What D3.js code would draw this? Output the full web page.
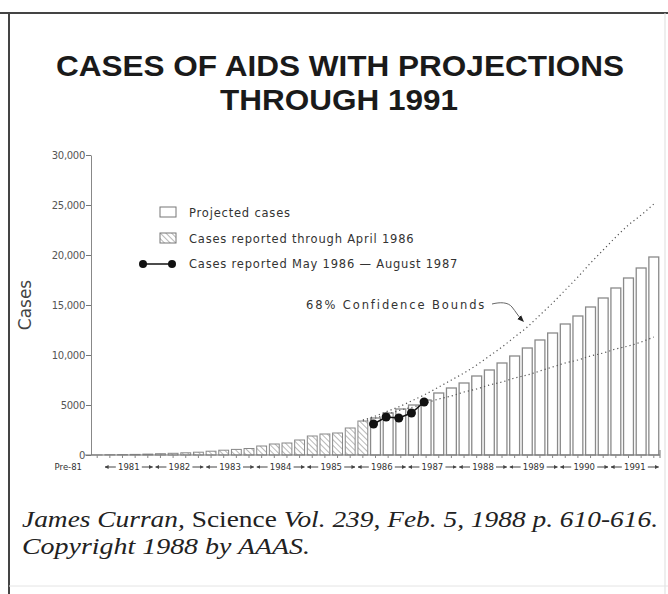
<!DOCTYPE html>
<html>
<head>
<meta charset="utf-8">
<script src="https://cdn.jsdelivr.net/npm/d3@7"></script>
<style>
  body { margin: 0; background: #fff; }
  svg { display: block; }
</style>
</head>
<body>
<div id="chart"></div>
<script>
// categories: one bar per quarter, after a single pre-1981 bar
const years = [1981, 1982, 1983, 1984, 1985, 1986, 1987, 1988, 1989, 1990, 1991];
const quarterNames = ['Q1', 'Q2', 'Q3', 'Q4'];
const categories = ['Pre-81'];
years.forEach(y => quarterNames.forEach(q => categories.push(y + ' ' + q)));

// cases reported through April 1986 (hatched bars), Pre-81 .. 1986 Q1
const reportedCases = [
  10,
  30, 40, 60, 90,
  130, 170, 220, 280,
  380, 480, 560, 650,
  900, 1100, 1200, 1500,
  1900, 2100, 2200, 2700,
  3400
];

// projected cases (open bars), 1986 Q2 .. 1991 Q4
const projectedCases = [
  3700, 4200, 4600,
  5000, 5500, 6200, 6700,
  7200, 7900, 8500, 9200,
  9900, 10700, 11500, 12200,
  13100, 13900, 14800, 15700,
  16700, 17700, 18700, 19800
];

// cases reported May 1986 - August 1987 (dots)
const laterQuarters = ['1986 Q2', '1986 Q3', '1986 Q4', '1987 Q1', '1987 Q2'];
const laterCases = [3100, 3800, 3700, 4200, 5300];

// 68% confidence bounds, 1986 Q1 .. 1991 Q4
const boundQuarters = categories.slice(21);
const upperBound = [
  3500, 3900, 4400, 4900, 5500, 6100, 6800, 7500,
  8200, 9000, 9900, 10800, 11800, 12800, 14000, 15200,
  16500, 17800, 19200, 20500, 21800, 23000, 24000, 25100
];
const lowerBound = [
  3400, 3700, 4100, 4500, 4800, 5200, 5600, 5900,
  6300, 6600, 7000, 7300, 7700, 8000, 8400, 8800,
  9200, 9500, 9900, 10200, 10600, 10900, 11300, 11800
];

const yTicks = [0, 5000, 10000, 15000, 20000, 25000, 30000];

const width = 668, height = 594;
const plot = { left: 91, right: 660, top: 155, bottom: 455 };
const gray = '#555';
const sansFont = '"DejaVu Sans", sans-serif';
const serifFont = '"Liberation Serif", "Times New Roman", serif';

const svg = d3.select('#chart').append('svg')
  .attr('width', width)
  .attr('height', height);

// hatch pattern
const defs = svg.append('defs');
const hatch = defs.append('pattern')
  .attr('id', 'hatch')
  .attr('patternUnits', 'userSpaceOnUse')
  .attr('width', 4).attr('height', 4)
  .attr('patternTransform', 'rotate(-45)');
hatch.append('rect').attr('width', 4).attr('height', 4).attr('fill', '#fff');
hatch.append('line')
  .attr('x1', 0).attr('y1', 0).attr('x2', 0).attr('y2', 4)
  .attr('stroke', '#888').attr('stroke-width', 1.2);

defs.append('marker')
  .attr('id', 'arrowHead')
  .attr('viewBox', '0 0 10 10')
  .attr('refX', 8).attr('refY', 5)
  .attr('markerWidth', 7).attr('markerHeight', 7)
  .attr('orient', 'auto')
  .append('path')
  .attr('d', 'M0,1 L10,5 L0,9 z')
  .attr('fill', '#222');

defs.append('marker')
  .attr('id', 'tinyArrow')
  .attr('viewBox', '0 0 10 10')
  .attr('refX', 9).attr('refY', 5)
  .attr('markerWidth', 4).attr('markerHeight', 4)
  .attr('orient', 'auto')
  .append('path')
  .attr('d', 'M0,0 L10,5 L0,10 z')
  .attr('fill', '#444');

// page frame
svg.append('line').attr('x1', 0).attr('x2', 668).attr('y1', 13).attr('y2', 13)
  .attr('stroke', '#444').attr('stroke-width', 2);
svg.append('line').attr('x1', 9).attr('x2', 9).attr('y1', 13).attr('y2', 594)
  .attr('stroke', '#444').attr('stroke-width', 2);
svg.append('line').attr('x1', 665).attr('x2', 665).attr('y1', 13).attr('y2', 594)
  .attr('stroke', '#ddd').attr('stroke-width', 1);
svg.append('line').attr('x1', 9).attr('x2', 668).attr('y1', 586).attr('y2', 586)
  .attr('stroke', '#e4e4e4').attr('stroke-width', 1);

// title
svg.append('text')
  .attr('x', 340).attr('y', 76)
  .attr('text-anchor', 'middle')
  .attr('textLength', 568).attr('lengthAdjust', 'spacingAndGlyphs')
  .style('font-family', '"Liberation Sans", Arial, sans-serif')
  .style('font-weight', 'bold').style('font-size', '30px')
  .attr('fill', '#1a1a1a')
  .text('CASES OF AIDS WITH PROJECTIONS');
svg.append('text')
  .attr('x', 339).attr('y', 110)
  .attr('text-anchor', 'middle')
  .attr('textLength', 238).attr('lengthAdjust', 'spacingAndGlyphs')
  .style('font-family', '"Liberation Sans", Arial, sans-serif')
  .style('font-weight', 'bold').style('font-size', '30px')
  .attr('fill', '#1a1a1a')
  .text('THROUGH 1991');

// scales
const x = d3.scaleBand()
  .domain(categories)
  .range([plot.left, plot.right])
  .paddingInner(0.22)
  .paddingOuter(0.1);

const y = d3.scaleLinear()
  .domain([0, 30000])
  .range([plot.bottom, plot.top]);

// y axis
const yAxis = svg.append('g')
  .attr('transform', `translate(${plot.left},0)`)
  .call(d3.axisLeft(y)
    .tickValues(yTicks)
    .tickSize(5)
    .tickSizeOuter(0)
    .tickFormat(d => d < 10000 ? String(d) : d3.format(',')(d)));
yAxis.select('.domain').attr('stroke', '#888');
yAxis.selectAll('.tick line').attr('stroke', '#777');
yAxis.selectAll('.tick text')
  .attr('fill', gray)
  .style('font-family', sansFont)
  .style('font-size', '10px')
  .style('letter-spacing', '-0.3px')
  .attr('x', -6);

svg.append('text')
  .attr('transform', 'translate(31,305) rotate(-90)')
  .attr('text-anchor', 'middle')
  .style('font-family', sansFont)
  .style('font-size', '17px')
  .attr('fill', '#444')
  .text('Cases');

// bars: reported (hatched)
const reportedData = reportedCases.map((v, i) => ({ cat: categories[i], value: v }));
const projectedData = projectedCases.map((v, i) => ({ cat: categories[i + reportedCases.length], value: v }));

svg.selectAll('.bar-reported')
  .data(reportedData)
  .enter()
  .append('rect')
  .attr('class', 'bar-reported')
  .attr('x', d => x(d.cat))
  .attr('y', d => y(d.value))
  .attr('width', x.bandwidth())
  .attr('height', d => y(0) - y(d.value))
  .attr('fill', 'url(#hatch)')
  .attr('stroke', '#888')
  .attr('stroke-width', 1);

svg.selectAll('.bar-projected')
  .data(projectedData)
  .enter()
  .append('rect')
  .attr('class', 'bar-projected')
  .attr('x', d => x(d.cat))
  .attr('y', d => y(d.value))
  .attr('width', x.bandwidth())
  .attr('height', d => y(0) - y(d.value))
  .attr('fill', '#fff')
  .attr('stroke', '#8a8a8a')
  .attr('stroke-width', 1.3);

// confidence bounds
const boundLine = d3.line()
  .x(d => x(d.cat) + x.bandwidth() / 2)
  .y(d => y(d.value))
  .curve(d3.curveMonotoneX);

[upperBound, lowerBound].forEach(series => {
  svg.append('path')
    .datum(series.map((v, i) => ({ cat: boundQuarters[i], value: v })))
    .attr('d', boundLine)
    .attr('fill', 'none')
    .attr('stroke', '#555')
    .attr('stroke-width', 1.2)
    .attr('stroke-dasharray', '1.2,3');
});

// reported May 1986 - Aug 1987
const laterData = laterCases.map((v, i) => ({ cat: laterQuarters[i], value: v }));
svg.append('path')
  .datum(laterData)
  .attr('d', d3.line().x(d => x(d.cat) + x.bandwidth() / 2 - 2).y(d => y(d.value)))
  .attr('fill', 'none')
  .attr('stroke', '#111')
  .attr('stroke-width', 1.5);
svg.selectAll('.dot')
  .data(laterData)
  .enter()
  .append('circle')
  .attr('class', 'dot')
  .attr('cx', d => x(d.cat) + x.bandwidth() / 2 - 2)
  .attr('cy', d => y(d.value))
  .attr('r', 4.5)
  .attr('fill', '#111');

// x axis
svg.append('line')
  .attr('x1', plot.left - 6).attr('x2', plot.right)
  .attr('y1', plot.bottom).attr('y2', plot.bottom)
  .attr('stroke', '#777').attr('stroke-width', 1.2);
svg.selectAll('.xtick')
  .data(categories)
  .enter()
  .append('line')
  .attr('class', 'xtick')
  .attr('x1', d => x(d) + x.bandwidth() / 2)
  .attr('x2', d => x(d) + x.bandwidth() / 2)
  .attr('y1', plot.bottom).attr('y2', plot.bottom + 3)
  .attr('stroke', '#888');
svg.append('line')
  .attr('x1', plot.right).attr('x2', plot.right)
  .attr('y1', plot.bottom - 5).attr('y2', plot.bottom + 3)
  .attr('stroke', '#777');

const labelY = 470;
svg.append('text')
  .attr('x', 82).attr('y', labelY)
  .attr('text-anchor', 'end')
  .style('font-family', sansFont).style('font-size', '8.5px')
  .attr('fill', '#333')
  .text('Pre-81');

const step = x.step();
years.forEach(yr => {
  const start = x(yr + ' Q1') - step * x.paddingInner() / 2;
  const end = x(yr + ' Q4') + x.bandwidth() + step * x.paddingInner() / 2;
  const mid = (start + end) / 2;
  svg.append('text')
    .attr('x', mid).attr('y', labelY)
    .attr('text-anchor', 'middle')
    .style('font-family', sansFont).style('font-size', '8.5px')
    .attr('fill', '#333')
    .text(yr);
  [[mid - 13, start + 1.5], [mid + 13, end - 1.5]].forEach(([a, b]) => {
    svg.append('line')
      .attr('x1', a).attr('x2', b)
      .attr('y1', labelY - 3).attr('y2', labelY - 3)
      .attr('stroke', '#444').attr('stroke-width', 1)
      .attr('marker-end', 'url(#tinyArrow)');
  });
});

// legend
svg.append('rect')
  .attr('x', 160).attr('y', 207).attr('width', 16).attr('height', 10)
  .attr('fill', '#fff').attr('stroke', '#777');
svg.append('rect')
  .attr('x', 160).attr('y', 233).attr('width', 16).attr('height', 10)
  .attr('fill', 'url(#hatch)').attr('stroke', '#777');
svg.append('line')
  .attr('x1', 143).attr('x2', 172).attr('y1', 264).attr('y2', 264)
  .attr('stroke', '#111').attr('stroke-width', 1.5);
[143, 172].forEach(cx => {
  svg.append('circle').attr('cx', cx).attr('cy', 264).attr('r', 4).attr('fill', '#111');
});
const legendLabels = [
  ['Projected cases', 217],
  ['Cases reported through April 1986', 243],
  ['Cases reported May 1986 \u2014 August 1987', 268]
];
legendLabels.forEach(([t, ly]) => {
  svg.append('text')
    .attr('x', 189).attr('y', ly)
    .style('font-family', sansFont)
    .style('font-size', '11.5px')
    .style('letter-spacing', '0.8px')
    .attr('fill', '#333')
    .text(t);
});

// confidence bounds annotation
svg.append('text')
  .attr('x', 306).attr('y', 309)
  .style('font-family', sansFont)
  .style('font-size', '11.5px')
  .style('letter-spacing', '1.9px')
  .attr('fill', '#333')
  .text('68% Confidence Bounds');
svg.append('path')
  .attr('d', 'M492,304 C500,302 508,302 512,307 S518,316 523,321')
  .attr('fill', 'none')
  .attr('stroke', '#666')
  .attr('stroke-width', 1)
  .attr('marker-end', 'url(#arrowHead)');

// source caption
const caption = svg.append('text')
  .attr('x', 22).attr('y', 527)
  .attr('textLength', 636).attr('lengthAdjust', 'spacingAndGlyphs')
  .style('font-family', serifFont)
  .style('font-size', '23px')
  .attr('fill', '#222');
caption.append('tspan').style('font-style', 'italic').text('James Curran, ');
caption.append('tspan').text('Science ');
caption.append('tspan').style('font-style', 'italic').text('Vol. 239, Feb. 5, 1988 p. 610-616.');
svg.append('text')
  .attr('x', 22).attr('y', 554)
  .attr('textLength', 288).attr('lengthAdjust', 'spacingAndGlyphs')
  .style('font-family', serifFont)
  .style('font-size', '23px')
  .style('font-style', 'italic')
  .attr('fill', '#222')
  .text('Copyright 1988 by AAAS.');
</script>
</body>
</html>
